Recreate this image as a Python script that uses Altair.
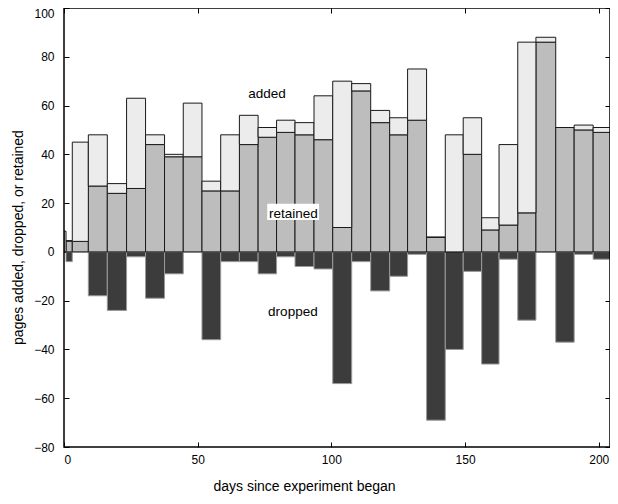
import altair as alt
import pandas as pd

# bar edges (days since experiment began)
bar_start = [0.0, 0.75, 3.1, 9.1, 16.2, 23.4, 30.5, 37.6, 44.6, 51.6,
             58.6, 65.6, 72.6, 79.5, 86.4, 93.5, 100.5, 107.6, 114.7, 121.8,
             128.5, 135.6, 142.6, 149.3, 156.2, 162.7, 169.7, 176.5, 183.9, 190.8,
             197.9]
bar_end = bar_start[1:] + [204.8]

retained = [0, 4.5, 4.3, 27, 24, 26, 44, 39, 39, 25,
            25, 44, 47, 49, 48, 46, 10, 66, 53, 48,
            54, 6, 0, 40, 9, 11, 16, 86, 51, 50,
            49]
total = [8.5, 4.5, 45, 48, 28, 63, 48, 40, 61, 29,
         48, 56, 51, 54, 53, 64, 70, 69, 58, 55,
         75, 6, 48, 55, 14, 44, 86, 88, 51, 52,
         51]
dropped = [0, -4, 0, -18, -24, -2, -19, -9, 0, -36,
           -4, -4, -9, -2, -6, -7, -54, -4, -16, -10,
           -1, -69, -40, -8, -46, -3, -28, 0, -37, -1,
           -3]

y_ticks = [-80, -60, -40, -20, 0, 20, 40, 60, 80, 100]
x_ticks = [0, 50, 100, 150, 200]

labels = ["added", "retained", "dropped"]
label_x = [75.9, 85.8, 85.6]
label_y = [64.8, 15.6, -24.7]

df = pd.DataFrame({
    "start": bar_start, "end": bar_end,
    "retained": retained, "total": total, "dropped": dropped,
})
df["zero"] = 0

lab = pd.DataFrame({"label": labels, "x": label_x, "y": label_y})
box = pd.DataFrame({"x": [76.0], "x2": [95.4], "y": [13.1], "y2": [19.7]})

FONT = "Liberation Sans"
W, H = 546, 439
xscale = alt.Scale(domain=[0, 204.2], nice=False, zero=False)
yscale = alt.Scale(domain=[-80, 100], nice=False)

common_axis = dict(domain=False, grid=False, tickColor="black", tickSize=5,
                   offset=-5, tickWidth=1, labelColor="black",
                   labelFont=FONT, labelFontSize=12, titleFont=FONT,
                   titleColor="black", titleFontWeight="normal")

x_axis = alt.Axis(orient="bottom", values=x_ticks, labelPadding=7,
                  title="days since experiment began", titleFontSize=14,
                  titleX=240, titleY=48, titleBaseline="alphabetic",
                  titleAlign="center", **common_axis)
y_axis = alt.Axis(orient="left", values=y_ticks, labelPadding=10,
                  labelBaseline={"condition": {"test": "datum.value >= 100",
                                               "value": "top"},
                                 "value": "middle"},
                  title="pages added, dropped, or retained", titleFontSize=14,
                  titleX=-47, titleY=229, titleAngle=270,
                  titleBaseline="alphabetic", titleAlign="center",
                  **common_axis)
x_axis_top = alt.Axis(orient="top", values=x_ticks, labels=False, title=None,
                      **common_axis)
y_axis_right = alt.Axis(orient="right", values=y_ticks, labels=False,
                        title=None, **common_axis)

base = alt.Chart(df)

dropped_bars = base.mark_rect(fill="#3c3c3c", stroke="#9a9a9a",
                              strokeWidth=1, clip=True).encode(
    x=alt.X("start:Q", scale=xscale, axis=x_axis),
    x2="end:Q",
    y=alt.Y("dropped:Q", scale=yscale, axis=y_axis),
    y2="zero:Q",
)

retained_bars = base.mark_rect(fill="#bdbdbd", stroke="#1a1a1a",
                               strokeWidth=1, clip=True).encode(
    x=alt.X("start:Q", scale=xscale, axis=x_axis_top),
    x2="end:Q",
    y=alt.Y("retained:Q", scale=yscale, axis=y_axis_right),
    y2="zero:Q",
)

added_bars = base.mark_rect(fill="#ececec", stroke="#1a1a1a",
                            strokeWidth=1, clip=True).encode(
    x=alt.X("start:Q", scale=xscale, axis=None),
    x2="end:Q",
    y=alt.Y("total:Q", scale=yscale, axis=None),
    y2="retained:Q",
)

label_box = alt.Chart(box).mark_rect(fill="white").encode(
    x=alt.X("x:Q", scale=xscale, axis=None),
    x2="x2:Q",
    y=alt.Y("y:Q", scale=yscale, axis=None),
    y2="y2:Q",
)

texts = alt.Chart(lab).mark_text(font=FONT, fontSize=13.5, color="black",
                                 align="center", baseline="middle").encode(
    x=alt.X("x:Q", scale=xscale, axis=None),
    y=alt.Y("y:Q", scale=yscale, axis=None),
    text="label:N",
)

frame = alt.Chart(pd.DataFrame({"f": [0]})).mark_rect(
    fill=None, stroke="black", strokeWidth=1.5
).encode(
    x=alt.value(0), x2=alt.value(W), y=alt.value(0), y2=alt.value(H)
)

chart = alt.layer(
    dropped_bars, retained_bars, added_bars, label_box, texts, frame
).resolve_axis(x="independent", y="independent").properties(
    width=W, height=H,
    autosize=alt.AutoSizeParams(type="none"),
    padding={"left": 56, "top": 0, "right": 0, "bottom": 49},
    background="white",
).configure_view(stroke=None)

chart.save("out.html", embed_options={"renderer": "svg", "actions": False})
